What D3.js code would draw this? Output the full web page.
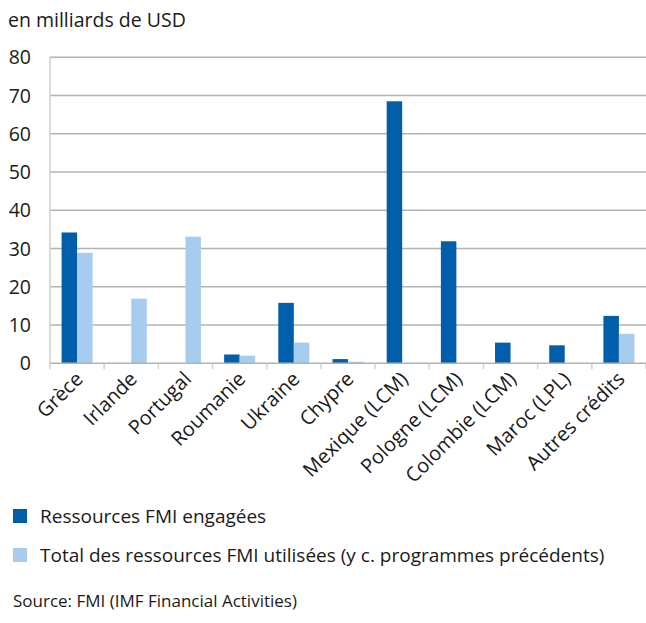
<!DOCTYPE html>
<html>
<head>
  <meta charset="utf-8">
  <title>Ressources FMI</title>
  <script src="https://d3js.org/d3.v7.min.js"></script>
  <style>
    body { margin: 0; background: #fff; }
    text { font-family: "Open Sans", "Noto Sans", sans-serif; fill: #1a1a1a; }
  </style>
</head>
<body>
<script type="text/javascript">
  var categories = ["Grèce", "Irlande", "Portugal", "Roumanie", "Ukraine", "Chypre",
    "Mexique (LCM)", "Pologne (LCM)", "Colombie (LCM)", "Maroc (LPL)", "Autres crédits"];
  var engagees = [34.2, 0, 0, 2.3, 15.8, 1.1, 68.5, 31.9, 5.4, 4.7, 12.4];
  var utilisees = [28.9, 16.9, 33.1, 2.0, 5.4, 0.4, 0, 0, 0, 0, 7.7];
  var seriesNames = ["Ressources FMI engagées",
    "Total des ressources FMI utilisées (y c. programmes précédents)"];
  var colors = ["#005EAA", "#A6CCEE"];
  var yTicks = [0, 10, 20, 30, 40, 50, 60, 70, 80];

  var w = 646, h = 623;
  var plotLeft = 50, plotRight = 646, plotTop = 57.3, plotBottom = 363.3;

  var svg = d3.select("body").append("svg")
    .attr("width", w)
    .attr("height", h);

  var x = d3.scaleBand()
    .domain(categories)
    .range([plotLeft, plotRight]);

  var x1 = d3.scaleBand()
    .domain([0, 1])
    .range([0, 31]);

  var y = d3.scaleLinear()
    .domain([0, 80])
    .range([plotBottom, plotTop]);

  // unit label
  svg.append("text")
    .attr("x", 8)
    .attr("y", 27)
    .style("font-size", "19.5px")
    .text("en milliards de USD");

  // gridlines
  svg.selectAll("line.grid")
    .data(yTicks.filter(function(d){ return d > 0; }))
    .enter()
    .append("line")
    .attr("class", "grid")
    .attr("x1", plotLeft)
    .attr("x2", plotRight)
    .attr("y1", function(d){ return y(d); })
    .attr("y2", function(d){ return y(d); })
    .attr("stroke", "#b3b3b3")
    .attr("stroke-width", 1.5);

  // y labels
  svg.selectAll("text.ylab")
    .data(yTicks)
    .enter()
    .append("text")
    .attr("class", "ylab")
    .attr("x", 31)
    .attr("y", function(d){ return y(d) + 7; })
    .attr("text-anchor", "end")
    .style("font-size", "19.5px")
    .text(function(d){ return d; });

  // left axis line
  svg.append("line")
    .attr("x1", plotLeft).attr("x2", plotLeft)
    .attr("y1", plotTop).attr("y2", plotBottom)
    .attr("stroke", "#d0d0d0")
    .attr("stroke-width", 1.5);

  // bars
  var groups = svg.selectAll("g.cat")
    .data(categories)
    .enter()
    .append("g")
    .attr("class", "cat")
    .attr("transform", function(d){
      return "translate(" + (x(d) + (x.bandwidth() - 31) / 2) + ",0)";
    });

  groups.selectAll("rect")
    .data(function(d, i){ return [engagees[i], utilisees[i]]; })
    .enter()
    .append("rect")
    .attr("x", function(d, j){ return x1(j); })
    .attr("width", x1.bandwidth())
    .attr("y", function(d){ return y(d); })
    .attr("height", function(d){ return plotBottom - y(d); })
    .attr("fill", function(d, j){ return colors[j]; });

  // x axis line and ticks
  svg.append("line")
    .attr("x1", plotLeft).attr("x2", plotRight)
    .attr("y1", plotBottom).attr("y2", plotBottom)
    .attr("stroke", "#b3b3b3")
    .attr("stroke-width", 1.5);

  svg.selectAll("line.xtick")
    .data(categories.concat(["end"]))
    .enter()
    .append("line")
    .attr("class", "xtick")
    .attr("x1", function(d, i){ return plotLeft + i * x.step(); })
    .attr("x2", function(d, i){ return plotLeft + i * x.step(); })
    .attr("y1", plotBottom)
    .attr("y2", plotBottom + 6)
    .attr("stroke", "#d0d0d0")
    .attr("stroke-width", 1.5);

  // x labels
  svg.selectAll("text.xlab")
    .data(categories)
    .enter()
    .append("text")
    .attr("class", "xlab")
    .attr("text-anchor", "end")
    .style("font-size", "20px")
    .attr("transform", function(d){
      return "translate(" + (x(d) + x.bandwidth() / 2 + 7) + "," + (plotBottom + 17) + ") rotate(-45)";
    })
    .text(function(d){ return d; });

  // legend
  var legend = svg.selectAll("g.leg")
    .data(seriesNames)
    .enter()
    .append("g")
    .attr("class", "leg")
    .attr("transform", function(d, i){ return "translate(13," + (509 + i * 39) + ")"; });

  legend.append("rect")
    .attr("width", 14)
    .attr("height", 14)
    .attr("fill", function(d, i){ return colors[i]; });

  legend.append("text")
    .attr("x", 27)
    .attr("y", 14)
    .style("font-size", "19px")
    .text(function(d){ return d; });

  svg.append("text")
    .attr("x", 13)
    .attr("y", 607)
    .style("font-size", "17px")
    .text("Source: FMI (IMF Financial Activities)");
</script>
</body>
</html>
